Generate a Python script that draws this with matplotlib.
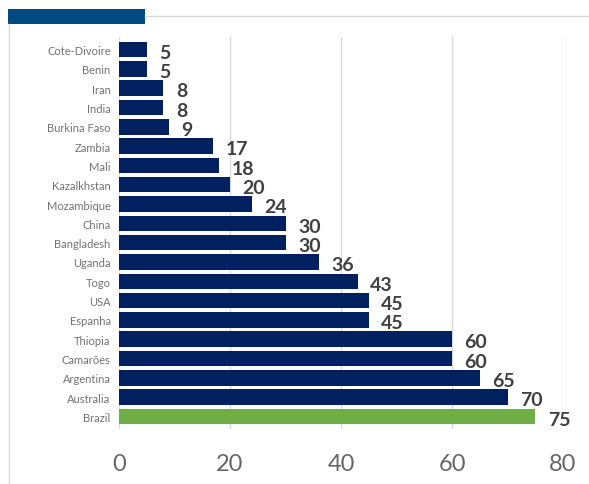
import matplotlib
matplotlib.use("Agg")
import matplotlib.pyplot as plt
from matplotlib.patches import Rectangle
from matplotlib.lines import Line2D

countries = ["Cote-Divoire", "Benin", "Iran", "India", "Burkina Faso", "Zambia", "Mali",
             "Kazalkhstan", "Mozambique", "China", "Bangladesh", "Uganda", "Togo", "USA",
             "Espanha", "Thiopia", "Camarões", "Argentina", "Australia", "Brazil"]
values = [5, 5, 8, 8, 9, 17, 18, 20, 24, 30, 30, 36, 43, 45, 45, 60, 60, 65, 70, 75]
xticks = [0, 20, 40, 60, 80]

plt.rcParams["font.family"] = ["Lato", "DejaVu Sans"]

W, H = 589, 485
fig = plt.figure(figsize=(W / 100, H / 100), dpi=100)
fig.patch.set_facecolor("white")

# frame decorations (header block + thin grey border)
fig.add_artist(Rectangle((8 / W, 1 - 25 / H), 137 / W, 15 / H, transform=fig.transFigure,
                         color="#004A80", lw=0))
fig.add_artist(Line2D([145 / W, 1], [1 - 17 / H] * 2, transform=fig.transFigure,
                      color="#D9D9D9", lw=1))
fig.add_artist(Line2D([8.5 / W] * 2, [0, 1 - 25 / H], transform=fig.transFigure,
                      color="#D9D9D9", lw=1))

ax = fig.add_axes([119 / W, 1 - 430 / H, (563 - 119) / W, (430 - 38) / H])
colors = ["#002060"] * (len(values) - 1) + ["#70AD47"]
ypos = list(range(len(countries)))
ax.barh(ypos, values, height=0.8, color=colors, zorder=2)
ax.set_ylim(len(countries) - 0.35, -0.65)
ax.set_xlim(0, 80)
ax.set_xticks(xticks)
ax.set_yticks(ypos)
ax.set_yticklabels(countries, fontsize=8, color="#737373")
ax.tick_params(axis="x", length=0, pad=17, labelsize=17, labelcolor="#666666")
ax.tick_params(axis="y", length=0, pad=6)
ax.grid(axis="x", color="#D9D9D9", lw=1, zorder=0)
for s in ax.spines.values():
    s.set_visible(False)

for y, v in zip(ypos, values):
    ax.annotate(str(v), (v, y), xytext=(9, -2), textcoords="offset points",
                va="center", ha="left", fontsize=14, fontweight="bold", color="#404040")

fig.savefig("out.png", dpi=100)
